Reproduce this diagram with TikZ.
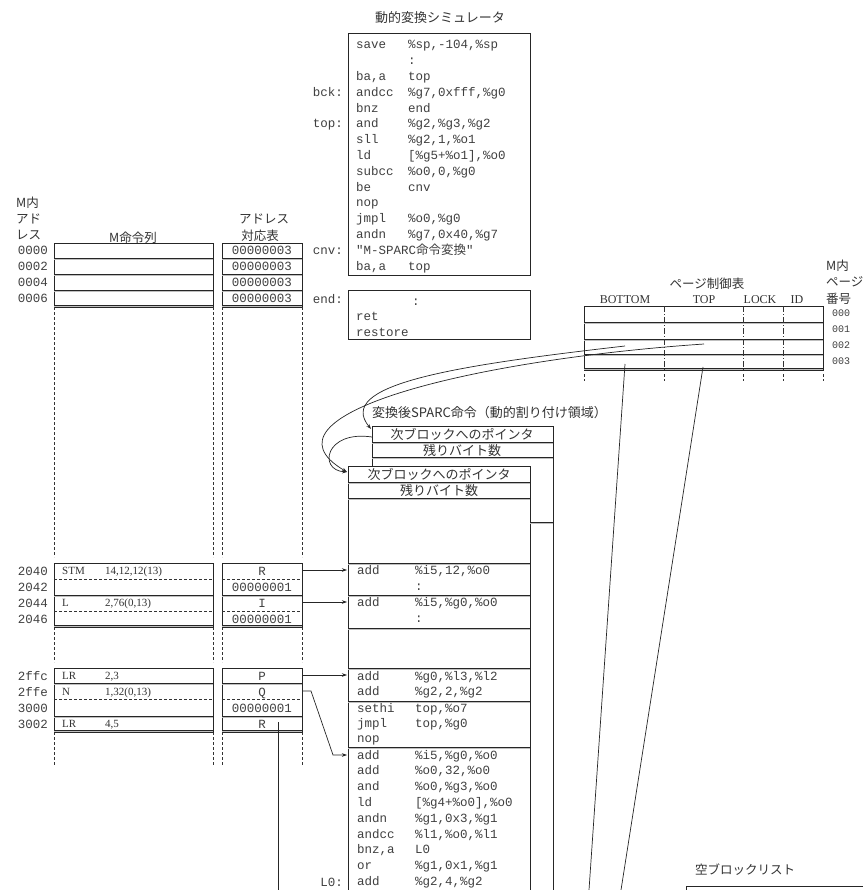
\documentclass[tikz,border=0pt]{standalone}
\usepackage{fontspec}
\setmainfont{Liberation Serif}
\newfontfamily\jp{Noto Sans CJK JP}
\newfontfamily\cf{Liberation Mono}
\usetikzlibrary{arrows.meta}
\newcommand\hl[3]{\draw[tl] (#1,#3) -- (#2,#3); \draw[sh] (#1,{#3+1.8}) -- (#2,{#3+1.8});}
\newcommand\dhl[3]{\draw[dh] (#1,#3) -- (#2,#3);}
\begin{document}
\begin{tikzpicture}[x=1pt,y=-1pt,
  tl/.style={line width=0.8pt,draw=black!85},
  sh/.style={line width=0.7pt,draw=black!25},
  dl/.style={line width=0.9pt,draw=black!80,dash pattern=on 2.5pt off 2.5pt},
  dh/.style={line width=0.8pt,draw=black!80,dash pattern=on 3pt off 2pt},
  dd/.style={line width=0.7pt,draw=black!80,dash pattern=on 6pt off 2pt on 1pt off 2pt},
  tb/.style={text height=8.5pt,text depth=0.5pt},
  code/.style={font=\cf\fontsize{12.5}{14}\selectfont,text=black!75,inner sep=0pt,anchor=west,tb},
  num/.style={font=\cf\fontsize{12.5}{14}\selectfont,text=black!75,inner sep=0pt,tb},
  small/.style={font=\cf\fontsize{10}{12}\selectfont,text=black!75,inner sep=0pt,anchor=west,text height=7pt,text depth=0pt},
  ser/.style={font=\fontsize{11}{13}\selectfont,text=black!80,inner sep=0pt,anchor=west,text height=7.5pt,text depth=0.5pt},
  hdr/.style={font=\fontsize{12}{14}\selectfont,text=black!80,inner sep=0pt,text height=8pt,text depth=0pt},
  jt/.style={font=\jp\fontsize{12.5}{15}\selectfont,text=black!80,inner sep=0pt,text height=10pt,text depth=0pt},
  lbl/.style={font=\cf\fontsize{12.5}{14}\selectfont,text=black!75,inner sep=0pt,anchor=east,tb},
  arr/.style={line width=0.7pt,draw=black!85,-{Stealth[length=5pt,width=3.5pt]}},
  ln/.style={line width=0.7pt,draw=black!85}]
\useasboundingbox (0,0) rectangle (863,890);
\fill[white] (0,0) rectangle (863,890);

% ---------------- simulator ----------------
\node[jt,font=\jp\fontsize{13}{15}\selectfont] (simtitle) at (440,18) {動的変換シミュレータ};
\draw[tl] (348,33) rectangle (530,275);
\node[code] (s1o) at (356,45) {save};
\node[code] (s1a) at (408,45) {\%sp,-104,\%sp};
\node[code] (s2a) at (408,60.8) {:};
\node[code] (s3o) at (356,76.6) {ba,a};
\node[code] (s3a) at (408,76.6) {top};
\node[code] (s4o) at (356,92.4) {andcc};
\node[code] (s4a) at (408,92.4) {\%g7,0xfff,\%g0};
\node[code] (s5o) at (356,108.2) {bnz};
\node[code] (s5a) at (408,108.2) {end};
\node[code] (s6o) at (356,124) {and};
\node[code] (s6a) at (408,124) {\%g2,\%g3,\%g2};
\node[code] (s7o) at (356,139.8) {sll};
\node[code] (s7a) at (408,139.8) {\%g2,1,\%o1};
\node[code] (s8o) at (356,155.6) {ld};
\node[code] (s8a) at (408,155.6) {[\%g5+\%o1],\%o0};
\node[code] (s9o) at (356,171.4) {subcc};
\node[code] (s9a) at (408,171.4) {\%o0,0,\%g0};
\node[code] (s10o) at (356,187.2) {be};
\node[code] (s10a) at (408,187.2) {cnv};
\node[code] (s11o) at (356,203) {nop};
\node[code] (s12o) at (356,218.8) {jmpl};
\node[code] (s12a) at (408,218.8) {\%o0,\%g0};
\node[code] (s13o) at (356,234.6) {andn};
\node[code] (s13a) at (408,234.6) {\%g7,0x40,\%g7};
\node[code] (s14o) at (356,250.4) {"M-SPARC{\jp 命令変換}"};
\node[code] (s15o) at (356,266.2) {ba,a};
\node[code] (s15a) at (408,266.2) {top};
\node[lbl] (lbck) at (343,92.4) {bck:};
\node[lbl] (ltop) at (343,124) {top:};
\node[lbl] (lcnv) at (343,250.4) {cnv:};

\draw[tl] (348,290) rectangle (530,339);
\node[lbl] (lend) at (343,299) {end:};
\node[code] (e1) at (412,301) {:};
\node[code] (e2) at (356,316) {ret};
\node[code] (e3) at (356,332) {restore};

% ---------------- left tables ----------------
\node[jt,anchor=west] (hm1) at (16,203) {M内};
\node[jt,anchor=west] (hm2) at (16,219) {アド};
\node[jt,anchor=west] (hm3) at (16,235) {レス};
\node[jt] (hmi) at (133,238) {M命令列};
\node[jt] (ha1) at (264,219) {アドレス};
\node[jt] (ha2) at (260,236) {対応表};

% table 1
\draw[tl] (54,243) rectangle (213,307);
\draw[tl] (222,243) rectangle (302,307);
\foreach \yy in {258,274,290,305}{\hl{54}{213}{\yy}\hl{222}{302}{\yy}}
\foreach \yy/\t [count=\i] in {250.5/0000,266/0002,282/0004,298.5/0006}{
  \node[lbl] (r1l\i) at (48,\yy) {\t};
  \node[num] (r1a\i) at (262,\yy) {00000003};}

% dashed guides
\foreach \xx in {54,213,222,302}{
  \draw[dl] (\xx,307) -- (\xx,557);
  \draw[dl] (\xx,627) -- (\xx,662);
  \draw[dl] (\xx,732) -- (\xx,765);}

% table 2
\draw[tl] (54,563) rectangle (213,627);
\draw[tl] (222,563) rectangle (302,627);
\hl{54}{213}{595}\hl{222}{302}{595}\hl{54}{213}{625}\hl{222}{302}{625}
\dhl{54}{213}{579}\dhl{222}{302}{579}\dhl{54}{213}{611}\dhl{222}{302}{611}
\node[lbl] (r2l1) at (48,571) {2040};
\node[lbl] (r2l2) at (48,587) {2042};
\node[lbl] (r2l3) at (48,603) {2044};
\node[lbl] (r2l4) at (48,619) {2046};
\node[ser] (m1o) at (62,571) {STM};
\node[ser] (m1a) at (105,571) {14,12,12(13)};
\node[ser] (m2o) at (62,603) {L};
\node[ser] (m2a) at (105,603) {2,76(0,13)};
\node[num] (aR) at (262,571) {R};
\node[num] (a01) at (262,587) {00000001};
\node[num] (aI) at (262,603) {I};
\node[num] (a02) at (262,619) {00000001};

% table 3
\draw[tl] (54,668) rectangle (213,732);
\draw[tl] (222,668) rectangle (302,732);
\hl{54}{213}{683}\hl{222}{302}{683}\hl{54}{213}{716}\hl{222}{302}{716}\hl{54}{213}{730}\hl{222}{302}{730}
\dhl{54}{213}{699}\dhl{222}{302}{699}
\node[lbl] (r3l1) at (48,676) {2ffc};
\node[lbl] (r3l2) at (48,692) {2ffe};
\node[lbl] (r3l3) at (48,708) {3000};
\node[lbl] (r3l4) at (48,724) {3002};
\node[ser] (m3o) at (62,676) {LR};
\node[ser] (m3a) at (105,676) {2,3};
\node[ser] (m4o) at (62,692) {N};
\node[ser] (m4a) at (105,692) {1,32(0,13)};
\node[ser] (m5o) at (62,724) {LR};
\node[ser] (m5a) at (105,724) {4,5};
\node[num] (aP) at (262,676) {P};
\node[num] (aQ) at (262,692) {Q};
\node[num] (a03) at (262,708) {00000001};
\node[num] (aR2) at (262,724) {R};

% ---------------- page control table ----------------
\node[jt] (pttitle) at (707,283) {ページ制御表};
\node[hdr] (hB) at (625,299) {BOTTOM};
\node[hdr] (hT) at (704,299) {TOP};
\node[hdr] (hL) at (760,299) {LOCK};
\node[hdr] (hI) at (797,299) {ID};
\node[jt,anchor=west] (pm1) at (826,265) {M内};
\node[jt,anchor=west] (pm2) at (826,281) {ページ};
\node[jt,anchor=west] (pm3) at (826,298) {番号};
\draw[tl] (584,306) rectangle (823,370);
\foreach \yy in {322,339,354,368}{\hl{584}{823}{\yy}}
\foreach \xx in {664,743,783}{\draw[dd] (\xx,306) -- (\xx,370);}
\foreach \xx in {584,664,743,783,823}{\draw[dl] (\xx,374) -- (\xx,381);}
\foreach \yy/\t [count=\i] in {313/000,329/001,345/002,361/003}{
  \node[small] (pn\i) at (832,\yy) {\t};}

% ---------------- converted blocks ----------------
\node[jt,anchor=west,font=\jp\fontsize{13}{15}\selectfont] (btitle) at (372,412) {変換後SPARC命令（動的割り付け領域）};
% back block
\draw[tl] (372,466) -- (372,426) -- (553,426) -- (553,890);
\hl{372}{553}{442}\hl{372}{553}{457}
\node[jt,font=\jp\fontsize{13}{15}\selectfont] (bp1) at (462,434) {次ブロックへのポインタ};
\node[jt,font=\jp\fontsize{13}{15}\selectfont] (bn1) at (462,450) {残りバイト数};
% front block
\draw[tl] (348,890) -- (348,466) -- (530,466) -- (530,890);
\foreach \yy in {482,498,563,595,628,668,701,747}{\hl{348}{530}{\yy}}
\hl{530}{553}{522}
\node[jt,font=\jp\fontsize{13}{15}\selectfont] (bp2) at (439,474) {次ブロックへのポインタ};
\node[jt,font=\jp\fontsize{13}{15}\selectfont] (bn2) at (439,490) {残りバイト数};

\node[code] (f1o) at (357,570) {add};
\node[code] (f1a) at (415,570) {\%i5,12,\%o0};
\node[code] (f2a) at (415,586) {:};
\node[code] (f3o) at (357,602) {add};
\node[code] (f3a) at (415,602) {\%i5,\%g0,\%o0};
\node[code] (f4a) at (415,618) {:};
\node[code] (f5o) at (357,676) {add};
\node[code] (f5a) at (415,676) {\%g0,\%l3,\%l2};
\node[code] (f6o) at (357,691.5) {add};
\node[code] (f6a) at (415,691.5) {\%g2,2,\%g2};
\node[code] (f7o) at (357,708) {sethi};
\node[code] (f7a) at (415,708) {top,\%o7};
\node[code] (f8o) at (357,723) {jmpl};
\node[code] (f8a) at (415,723) {top,\%g0};
\node[code] (f9o) at (357,738.5) {nop};
\node[code] (f10o) at (357,755) {add};
\node[code] (f10a) at (415,755) {\%i5,\%g0,\%o0};
\node[code] (f11o) at (357,770.8) {add};
\node[code] (f11a) at (415,770.8) {\%o0,32,\%o0};
\node[code] (f12o) at (357,786.6) {and};
\node[code] (f12a) at (415,786.6) {\%o0,\%g3,\%o0};
\node[code] (f13o) at (357,802.4) {ld};
\node[code] (f13a) at (415,802.4) {[\%g4+\%o0],\%o0};
\node[code] (f14o) at (357,818.2) {andn};
\node[code] (f14a) at (415,818.2) {\%g1,0x3,\%g1};
\node[code] (f15o) at (357,834) {andcc};
\node[code] (f15a) at (415,834) {\%l1,\%o0,\%l1};
\node[code] (f16o) at (357,849.8) {bnz,a};
\node[code] (f16a) at (415,849.8) {L0};
\node[code] (f17o) at (357,865.6) {or};
\node[code] (f17a) at (415,865.6) {\%g1,0x1,\%g1};
\node[code] (f18o) at (357,881.4) {add};
\node[code] (f18a) at (415,881.4) {\%g2,4,\%g2};
\node[lbl] (lL0) at (343,882) {L0:};

% free block list
\node[jt,anchor=west] (freet) at (695,869) {空ブロックリスト};
\draw[tl] (863,886) -- (686,886) -- (686,890);

% ---------------- connectors ----------------
\coordinate (cR) at (302,570);   \coordinate (tR) at (347,570);
\coordinate (cI) at (302,602);   \coordinate (tI) at (347,602);
\coordinate (cP) at (302,675);   \coordinate (tP) at (347,675);
\coordinate (cQ) at (302,691);   \coordinate (tQ) at (347,755);
\coordinate (cR2) at (278,722);  \coordinate (eR2) at (278,890);
\draw[arr] (cR) -- (tR);
\draw[arr] (cI) -- (tI);
\draw[arr] (cP) -- (tP);
\draw[arr] (cQ) -- (311,691) -- (333,755) -- (tQ);
\draw[ln] (cR2) -- (eR2);

\coordinate (pB) at (625,346);
\coordinate (pT) at (704,344);
\coordinate (bk) at (371,429);
\coordinate (fr) at (347,472);
\coordinate (bl) at (372,437);
\draw[arr] (pB) .. controls (450,366) and (335,385) .. (bk);
\draw[arr] (pT) .. controls (470,360) and (250,415) .. (fr);
\draw[arr] (bl) .. controls (325,430) and (318,470) .. (fr);

\coordinate (pB2) at (625,364); \coordinate (eB2) at (589,890);
\coordinate (pT2) at (703,367); \coordinate (eT2) at (621,890);
\draw[ln] (pB2) -- (eB2);
\draw[ln] (pT2) -- (eT2);
\end{tikzpicture}
\end{document}
